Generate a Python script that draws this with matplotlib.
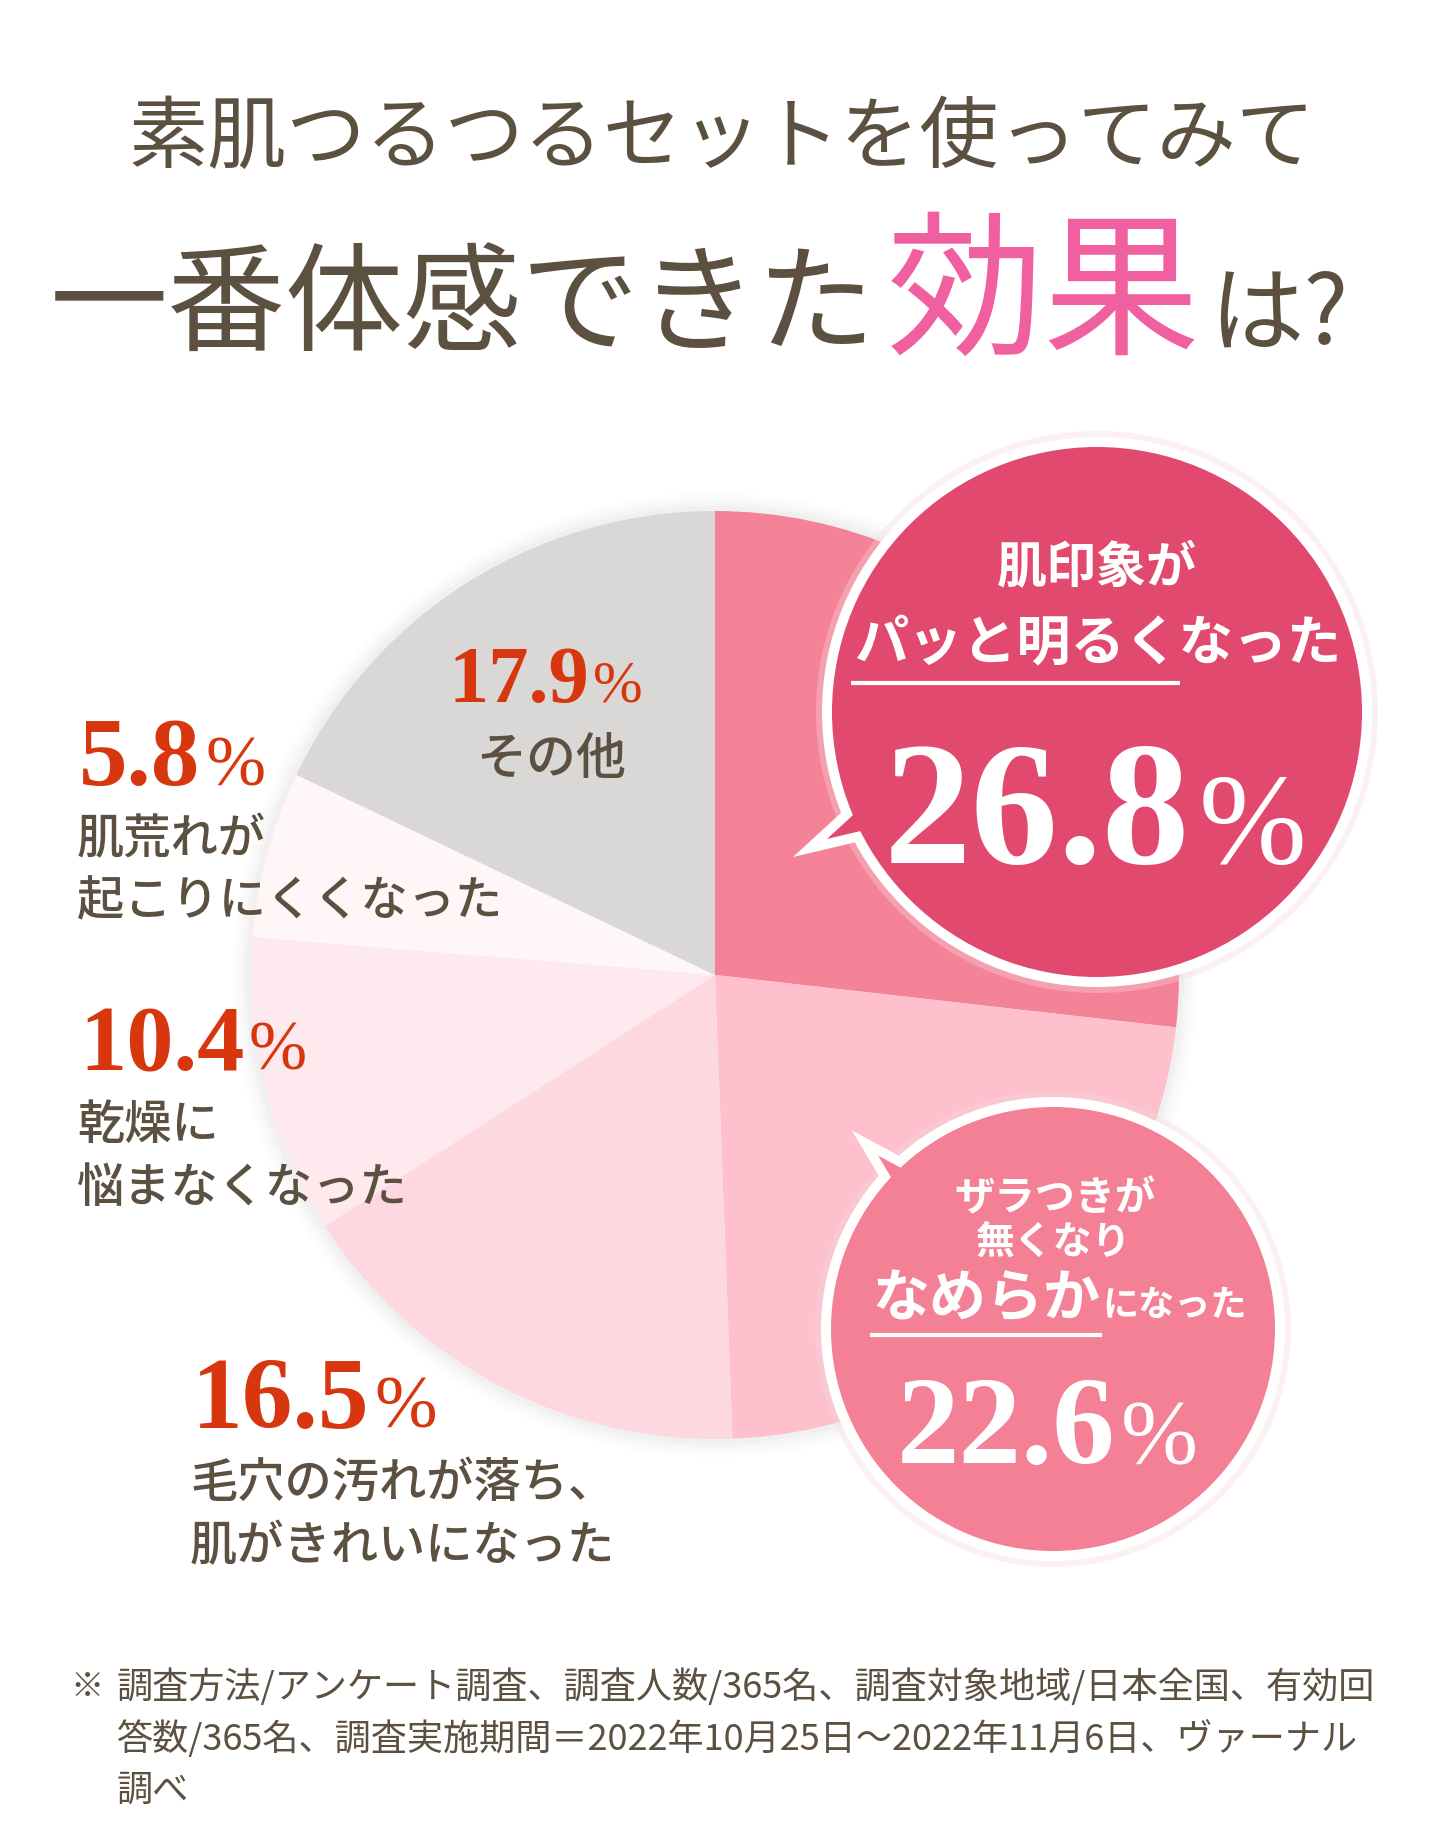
import matplotlib
matplotlib.use("Agg")
import numpy as np
import matplotlib.pyplot as plt
from matplotlib.patches import Circle, Polygon

W, H = 1440, 1828

# survey results, clockwise from 12 o'clock
items = ["肌印象がパッと明るくなった", "ザラつきが無くなりなめらかになった",
         "毛穴の汚れが落ち、肌がきれいになった", "乾燥に悩まなくなった",
         "肌荒れが起こりにくくなった", "その他"]
shares = [26.8, 22.6, 16.5, 10.4, 5.8, 17.9]
slice_colors = ["#F58397", "#FDC0CC", "#FDD8E0", "#FEEAEE", "#FEF6F7", "#DAD8D6"]

title1 = "素肌つるつるセットを使ってみて"
title2 = ["一番体感できた", "効果", "は?"]
note_lines = ["調査方法/アンケート調査、調査人数/365名、調査対象地域/日本全国、有効回",
              "答数/365名、調査実施期間＝2022年10月25日～2022年11月6日、ヴァーナル",
              "調べ"]

brown = "#5C5040"
red = "#D8360E"
pink_title = "#F05FA0"
bubble1_col = "#E14A6E"
bubble2_col = "#F48096"

JP = ["Noto Sans CJK JP", "DejaVu Sans"]
NUM = "Liberation Serif"

fig = plt.figure(figsize=(W / 100, H / 100), dpi=100)
ax = fig.add_axes([0, 0, 1, 1])

# pie
pc = (715, 975)
pr = 464
for d, a in [(18, 0.010), (13, 0.012), (9, 0.015), (5, 0.018)]:
    ax.add_patch(Circle(pc, pr + d, fc="black", ec="none", alpha=a, zorder=0))
ax.pie(shares, colors=slice_colors, startangle=-90, counterclock=True,
       radius=pr, center=pc, wedgeprops=dict(linewidth=0))

ax.set_xlim(0, W)
ax.set_ylim(H, 0)
ax.set_aspect("equal")
ax.axis("off")


def bubble(c, r, col, a1, a2, tip, z=5):
    # speech bubble: white ring, tail, coloured disc
    ax.add_patch(Circle(c, r + 16, fc="#F6D9DF", ec="none", alpha=0.35, zorder=z))
    ax.add_patch(Circle(c, r + 10, fc="white", ec="none", zorder=z + 0.1))
    pts = [(c[0] + (r - 20) * np.cos(np.radians(a1)), c[1] + (r - 20) * np.sin(np.radians(a1))),
           (c[0] + tip[0], c[1] + tip[1]),
           (c[0] + (r - 20) * np.cos(np.radians(a2)), c[1] + (r - 20) * np.sin(np.radians(a2)))]
    ax.add_patch(Polygon(pts, closed=True, fc=col, ec="white", lw=7,
                         joinstyle="miter", zorder=z + 0.2))
    ax.add_patch(Circle(c, r, fc=col, ec="none", zorder=z + 0.3))


b1 = (1097, 712)
bubble(b1, 265, bubble1_col, 160, 151, (-287, 136))
b2 = (1053, 1329)
bubble(b2, 222, bubble2_col, 230, 220, (-188, -186))

# title
ax.text(722, 139, title1, family=JP, fontsize=57, color=brown,
        ha="center", va="center")
t = ax.text(50, 343, title2[0], family=JP, fontsize=85, color=brown,
            ha="left", va="baseline")
t = ax.annotate(title2[1], xy=(1, 343), xycoords=(t, "data"), xytext=(8, 0),
                textcoords="offset points", family=JP, fontsize=113,
                color=pink_title, ha="left", va="baseline")
ax.annotate(title2[2], xy=(1, 343), xycoords=(t, "data"), xytext=(6, 0),
            textcoords="offset points", family=JP, fontsize=68,
            color=brown, ha="left", va="baseline")


def percent(x, y, value, size, col, z=10, ha="left"):
    t = ax.text(x, y, f"{value:.1f}", family=NUM, weight="bold", fontsize=size,
                color=col, ha=ha, va="baseline", zorder=z)
    ax.annotate("%", xy=(1, y), xycoords=(t, "data"), xytext=(size * 0.05, 0),
                textcoords="offset points", family=NUM, fontsize=size * 0.74,
                color=col, ha="left", va="baseline", zorder=z)


# bubble 1 text
ax.text(1097, 569, "肌印象が", family=JP, weight="bold", fontsize=36,
        color="white", ha="center", va="center", zorder=10)
ax.text(1098, 644, "パッと明るくなった", family=JP, weight="bold", fontsize=39,
        color="white", ha="center", va="center", zorder=10)
ax.plot([851, 1180], [683, 683], color="white", lw=3, solid_capstyle="butt", zorder=10)
percent(1190, 863, shares[0], 126, "white", ha="right")

# bubble 2 text
ax.text(1055, 1199, "ザラつきが", family=JP, weight="bold", fontsize=29,
        color="white", ha="center", va="center", zorder=10)
ax.text(1054, 1242, "無くなり", family=JP, weight="bold", fontsize=28,
        color="white", ha="center", va="center", zorder=10)
ax.text(872, 1316, "なめらか", family=JP, weight="bold", fontsize=41,
        color="white", ha="left", va="baseline", zorder=10)
ax.text(1102, 1316, "になった", family=JP, weight="bold", fontsize=26,
        color="white", ha="left", va="baseline", zorder=10)
ax.plot([870, 1102], [1335, 1335], color="white", lw=3, solid_capstyle="butt", zorder=10)
percent(1115, 1463, shares[1], 90, "white", ha="right")

# outside / on-pie labels
percent(589, 702, shares[5], 58, red, ha="right")
ax.text(551, 760, "その他", family=JP, weight="medium", fontsize=36,
        color=brown, ha="center", va="center", zorder=10)

percent(79, 785, shares[4], 70, red)
ax.text(77, 840, "肌荒れが", family=JP, weight="medium", fontsize=34,
        color=brown, ha="left", va="center", zorder=10)
ax.text(77, 902, "起こりにくくなった", family=JP, weight="medium", fontsize=34,
        color=brown, ha="left", va="center", zorder=10)

percent(79, 1070, shares[3], 68, red)
ax.text(77, 1125, "乾燥に", family=JP, weight="medium", fontsize=34,
        color=brown, ha="left", va="center", zorder=10)
ax.text(77, 1189, "悩まなくなった", family=JP, weight="medium", fontsize=34,
        color=brown, ha="left", va="center", zorder=10)

percent(192, 1428, shares[2], 73, red)
ax.text(190, 1483, "毛穴の汚れが落ち、", family=JP, weight="medium", fontsize=34,
        color=brown, ha="left", va="center", zorder=10)
ax.text(190, 1547, "肌がきれいになった", family=JP, weight="medium", fontsize=34,
        color=brown, ha="left", va="center", zorder=10)

# footnote
ax.text(70, 1687, "※", family=JP, fontsize=24, color=brown, ha="left", va="center")
for i, line in enumerate(note_lines):
    ax.text(117, 1687 + i * 52, line, family=JP, fontsize=26, color=brown,
            ha="left", va="center")

fig.savefig("out.png", dpi=100, facecolor="white")
